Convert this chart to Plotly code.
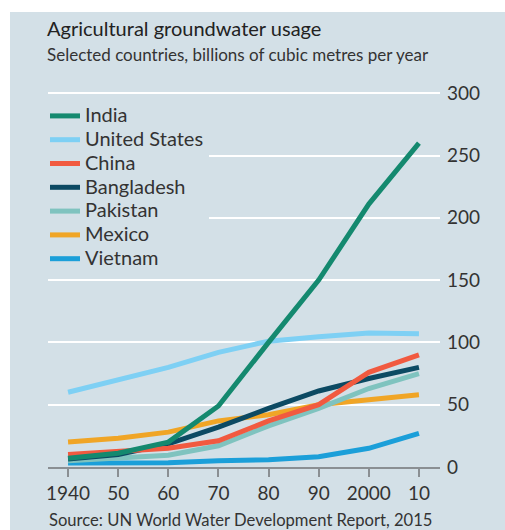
import plotly.graph_objects as go

years = [1940, 1950, 1960, 1970, 1980, 1990, 2000, 2010]
tick_labels = ["1940", "50", "60", "70", "80", "90", "2000", "10"]

india = [7, 11, 20, 49, 100, 150, 211, 260]
united_states = [60, 70, 80, 92, 101, 104.5, 107.5, 107]
china = [10, 13, 15, 21, 37, 50, 76, 90]
bangladesh = [6.5, 10, 18.5, 32, 47, 61, 71, 80]
pakistan = [5, 7, 9.5, 17, 33, 47, 63, 75]
mexico = [20, 23, 28, 37, 42, 50, 54, 58]
vietnam = [3.3, 3.3, 3.5, 5, 5.8, 8.3, 15, 27]

series_names = ["India", "United States", "China", "Bangladesh", "Pakistan", "Mexico", "Vietnam"]
series_values = [india, united_states, china, bangladesh, pakistan, mexico, vietnam]
series_colors = ["#14896f", "#7ed0f4", "#f15a40", "#0c4a63", "#7fc3bf", "#f0a526", "#1b9fd9"]

panel = "#d3e0e7"
font_family = "Lato, 'Noto Sans', sans-serif"

W, H = 505, 530
L, R, T, B = 48, 65, 87, 63
PW, PH = W - L - R, H - T - B  # 392 x 380


def px_x(p):  # page pixel -> paper fraction
    return (p - L) / PW


def px_y(p):
    return (H - B - p) / PH


fig = go.Figure()
for i in reversed(range(len(series_names))):
    fig.add_trace(go.Scatter(
        x=years, y=series_values[i],
        name='<span style="font-size:20px">' + series_names[i] + '</span>',
        mode="lines",
        line=dict(color=series_colors[i], width=5),
        legendrank=i + 1,
        hoverinfo="skip",
    ))

fig.update_layout(
    width=W, height=H,
    margin=dict(l=L, r=R, t=T, b=B),
    paper_bgcolor="white",
    plot_bgcolor=panel,
    font=dict(family=font_family, color="#333333"),
    showlegend=True,
    legend=dict(
        x=px_x(45), y=px_y(99), xanchor="left", yanchor="top",
        bgcolor=panel, borderwidth=0,
        font=dict(size=16, color="#333333"),
        tracegroupgap=0, itemwidth=30,
    ),
    xaxis=dict(
        range=[1936.0, 2014.2], tickvals=years, ticktext=tick_labels,
        showgrid=False, zeroline=False,
        showline=True, linecolor="#8a8f93", linewidth=1.5,
        ticks="outside", ticklen=8, tickwidth=1.5, tickcolor="#8a8f93",
        tickfont=dict(size=19, color="#333333"),
        layer="below traces",
    ),
    yaxis=dict(
        range=[0, 305], side="right", tickvals=[0, 50, 100, 150, 200, 250, 300],
        showgrid=True, gridcolor="white", gridwidth=2,
        zeroline=False, showline=False, ticks="",
        ticklabelstandoff=6,
        tickfont=dict(size=19, color="#333333"),
    ),
    shapes=[
        dict(type="rect", xref="paper", yref="paper", layer="below",
             x0=px_x(10), x1=px_x(540), y0=px_y(560), y1=px_y(12),
             fillcolor=panel, line=dict(width=0)),
        # panel-coloured backing behind the legend, hiding the gridlines there
        dict(type="rect", xref="paper", yref="paper", layer="between",
             x0=px_x(46), x1=px_x(225), y0=px_y(272), y1=px_y(100),
             fillcolor=panel, line=dict(width=0)),
    ],
    annotations=[
        dict(text="Agricultural groundwater usage", xref="paper", yref="paper",
             x=px_x(45), y=px_y(28), xanchor="left", yanchor="middle",
             showarrow=False, font=dict(size=20, color="#222222")),
        dict(text="Selected countries, billions of cubic metres per year", xref="paper", yref="paper",
             x=px_x(45), y=px_y(55), xanchor="left", yanchor="middle",
             showarrow=False, font=dict(size=17, color="#333333")),
        dict(text="Source: UN World Water Development Report, 2015", xref="paper", yref="paper",
             x=px_x(47), y=px_y(520), xanchor="left", yanchor="middle",
             showarrow=False, font=dict(size=16.6, color="#333333")),
    ],
)

fig.write_html(
    "out.html",
    config={"displayModeBar": False},
    post_script=(
        "document.body.style.margin='0';"
        "document.body.style.overflow='hidden';"
        "document.documentElement.style.overflow='hidden';"
        "document.documentElement.style.background='" + panel + "';"
        "document.body.style.background='" + panel + "';"
    ),
)
